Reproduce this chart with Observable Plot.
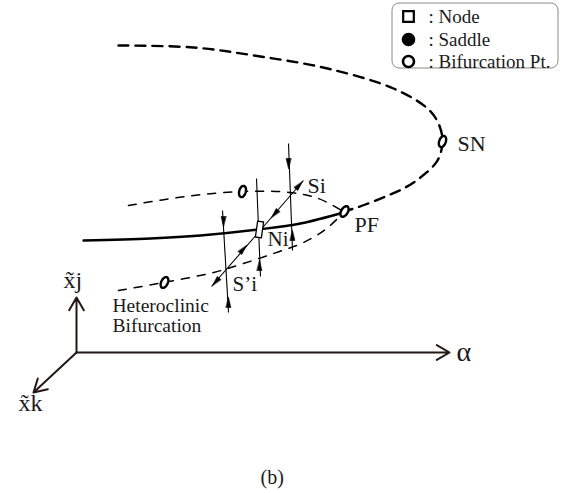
<!DOCTYPE html>
<html><head><meta charset="utf-8">
<script src="https://cdn.jsdelivr.net/npm/d3@7"></script>
<script src="https://cdn.jsdelivr.net/npm/@observablehq/plot@0.6"></script>
<style>body{margin:0;background:#fff} #chart svg{display:block;background:#fff}</style>
</head><body><div id="chart"></div>
<script>
// --- schematic data (pixel-space coordinates) ---
const saddleNodeBranch = [[118,45],[193,47],[260,56],[327,68],[393,88],[427,108],[438,123],[442,141],[437,160],[420,177],[403,188],[385,196],[365,204],[344,211]];
const upperBranch = [[128,205],[185,196],[242,191],[290,192],[318,198],[343,211]];
const lowerBranch = [[118,290],[163,282],[213,272],[240,264],[273,253],[303,242],[325,229],[343,212]];
const nodeBranch = [[83,240],[150,238],[200,235],[258,229],[300,223],[343,212]];
const manifolds = [
  {name:"Si", x1:288, y1:143, x2:292, y2:250},
  {name:"Ni", x1:256, y1:178, x2:260, y2:276},
  {name:"S'i", x1:222, y1:210, x2:228, y2:312},
  {name:"diag", x1:211, y1:286, x2:303, y2:180}
];
// arrow heads: tip x, tip y, direction (degrees clockwise from up)
const arrowHeads = [[288,168,180],[292,230,0],[259,260,0],[223,226,180],[228,297,0],
  [302,181,41],[271,217,221],[246,245,41],[212,285,221]];
const bifPoints = [{name:"SN",x:442,y:141,tilt:20},{name:"PF",x:344,y:211,tilt:30},
  {name:"B1",x:242,y:191,tilt:15},{name:"Het",x:164,y:282,tilt:25}];
const nodePoint = {name:"Ni", x:259, y:229, tilt:8};
const labels = [
  {text:"SN", x:457, y:143, size:22},
  {text:"PF", x:354, y:224, size:22},
  {text:"Si", x:307, y:185, size:22},
  {text:"Ni", x:267, y:239, size:21},
  {text:"S\u2019i", x:232, y:284, size:21},
  {text:"\u03b1", x:456, y:352, size:28},
  {text:"x\u0303j", x:63, y:280, size:24},
  {text:"x\u0303k", x:18, y:403, size:24},
  {text:"(b)", x:260, y:477, size:20}
];
const noteText = ["Heteroclinic","Bifurcation"];
const axes = [
  {x1:76, y1:352, x2:76, y2:297},
  {x1:76, y1:352, x2:449, y2:352},
  {x1:76, y1:352, x2:33, y2:392}
];
const legendItems = [
  {label:": Node", symbol:"square", fill:"white", y:16},
  {label:": Saddle", symbol:"circle", fill:"black", y:39},
  {label:": Bifurcation Pt.", symbol:"circle", fill:"white", y:61}
];
const legendBox = [{x1:392, y1:3, x2:558, y2:68}];

// --- derived geometry ---
function tri([tx,ty,a],i){
  const r = a*Math.PI/180, dx=Math.sin(r), dy=-Math.cos(r), len=10, w=2.4;
  const bx=tx-dx*len, by=ty-dy*len, px=-dy, py=dx;
  return [{id:i,x:tx,y:ty},{id:i,x:bx+px*w,y:by+py*w},{id:i,x:bx-px*w,y:by-py*w}];
}
function oval(p,rx,ry){
  const t=p.tilt*Math.PI/180, out=[];
  for(let k=0;k<28;k++){const u=2*Math.PI*k/28, ex=rx*Math.cos(u), ey=ry*Math.sin(u);
    out.push({id:p.name,x:p.x+ex*Math.cos(t)-ey*Math.sin(t),y:p.y+ex*Math.sin(t)+ey*Math.cos(t)});}
  return out;
}
function rectPoly(p,w,h){
  const t=p.tilt*Math.PI/180;
  return [[-w,-h],[w,-h],[w,h],[-w,h]].map(([ex,ey])=>({id:p.name,x:p.x+ex*Math.cos(t)-ey*Math.sin(t),y:p.y+ex*Math.sin(t)+ey*Math.cos(t)}));
}
const headPolys = arrowHeads.flatMap(tri);
const ovalPolys = bifPoints.flatMap(p=>oval(p,3.3,5.8));
const nodePoly = rectPoly(nodePoint,3,8);
const serif = "Liberation Serif, Times New Roman, serif";

const chart = Plot.plot({
  width:564, height:493, margin:0,
  x:{domain:[0,564], range:[0,564], axis:null},
  y:{domain:[0,493], range:[0,493], axis:null},
  marks:[
    Plot.rect(legendBox,{x1:"x1",y1:"y1",x2:"x2",y2:"y2",rx:7,fill:"white",stroke:"#8a8a8a",strokeWidth:1}),
    Plot.line(saddleNodeBranch,{stroke:"black",strokeWidth:2.4,strokeDasharray:"10,7",curve:"catmull-rom"}),
    Plot.line(upperBranch,{stroke:"black",strokeWidth:1.5,strokeDasharray:"8,8",curve:"catmull-rom"}),
    Plot.line(lowerBranch,{stroke:"black",strokeWidth:1.5,strokeDasharray:"8,8",curve:"catmull-rom"}),
    Plot.line(nodeBranch,{stroke:"black",strokeWidth:2.4,curve:"catmull-rom"}),
    Plot.link(manifolds,{x1:"x1",y1:"y1",x2:"x2",y2:"y2",stroke:"black",strokeWidth:1.1}),
    Plot.line(headPolys,{x:"x",y:"y",z:"id",fill:"black",stroke:"black",strokeWidth:0.6,curve:"linear-closed"}),
    Plot.line(nodePoly,{x:"x",y:"y",z:"id",fill:"white",stroke:"black",strokeWidth:1.3,curve:"linear-closed"}),
    Plot.line(ovalPolys,{x:"x",y:"y",z:"id",fill:"white",stroke:"black",strokeWidth:2.4,curve:"linear-closed"}),
    Plot.arrow(axes,{x1:"x1",y1:"y1",x2:"x2",y2:"y2",stroke:"#231815",strokeWidth:2,headLength:11}),
    Plot.text(labels,{x:"x",y:"y",text:"text",fontSize:"size",textAnchor:"start",fontFamily:serif,fill:"#1a1a1a"}),
    Plot.text([noteText.join("\n")],{x:112,y:297,text:d=>d,textAnchor:"start",lineAnchor:"top",fontSize:19.5,lineHeight:1.02,fontFamily:serif,fill:"#1a1a1a"}),
    Plot.dot(legendItems.filter(d=>d.symbol==="square"),{x:408,y:"y",symbol:"square",r:6,fill:"white",stroke:"black",strokeWidth:2.2}),
    Plot.dot(legendItems.filter(d=>d.symbol==="circle"),{x:408,y:"y",r:5.5,fill:"fill",stroke:"black",strokeWidth:2.6}),
    Plot.text(legendItems,{x:428,y:"y",text:"label",textAnchor:"start",fontSize:19,fontFamily:serif,fill:"#1a1a1a"})
  ]
});
document.getElementById("chart").append(chart);
</script>
</body></html>
